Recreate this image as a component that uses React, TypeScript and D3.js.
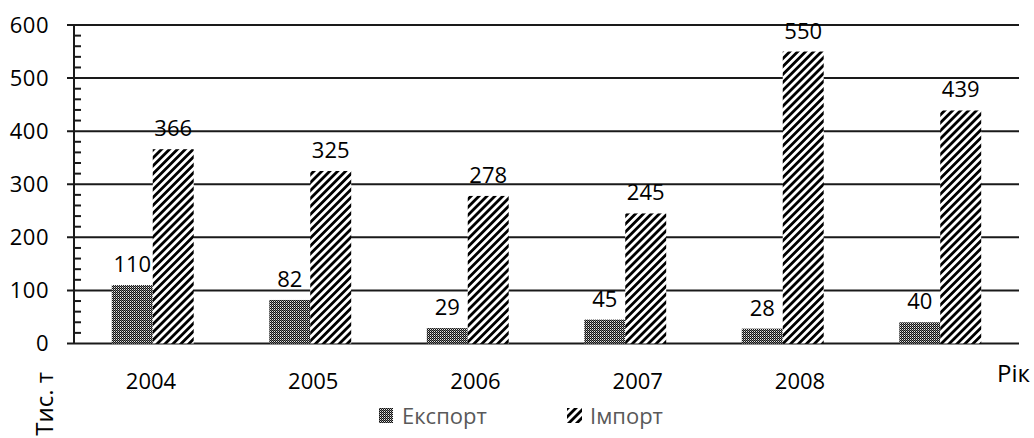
import React from "react";
import * as d3 from "d3";

const years = ["2004", "2005", "2006", "2007", "2008", ""];
const exportValues = [110, 82, 29, 45, 28, 40];
const importValues = [366, 325, 278, 245, 550, 439];
const yTicks = [0, 100, 200, 300, 400, 500, 600];
const legendLabels = ["Експорт", "Імпорт"];
const yTitle = "Тис. т";
const xTitle = "Рік";

const W = 1034;
const H = 438;
const FONT = "'Open Sans', 'Noto Sans', sans-serif";

export default function App() {
  const idx = years.map((_, i) => i);
  const x = d3
    .scaleBand<number>()
    .domain(idx)
    .range([74, 1019])
    .paddingInner(0.48)
    .paddingOuter(0.24);
  const sub = d3
    .scaleBand<string>()
    .domain(["export", "import"])
    .range([0, x.bandwidth()]);
  const y = d3.scaleLinear().domain([0, 600]).range([343.5, 25]);
  const minorTicks = d3.range(0, 601, 20).filter((v) => v % 100 !== 0);
  const labelX = d3.scaleLinear().domain([0, 4]).range([151, 800]);

  const series = [
    { key: "export", values: exportValues, fill: "url(#checker)" },
    { key: "import", values: importValues, fill: "url(#hatch)" },
  ];

  return (
    <svg
      width={W}
      height={H}
      style={{ position: "absolute", left: 0, top: 0, background: "#fff" }}
      fontFamily={FONT}
    >
      <defs>
        <pattern id="checker" width={2} height={2} patternUnits="userSpaceOnUse">
          <rect width={2} height={2} fill="#e8e8e8" />
          <rect x={0} y={0} width={1} height={1} fill="#111" />
          <rect x={1} y={1} width={1} height={1} fill="#111" />
          <rect x={1} y={0} width={1} height={1} fill="#777" />
        </pattern>
        <pattern
          id="hatch"
          width={5.6}
          height={5.6}
          patternUnits="userSpaceOnUse"
          patternTransform="rotate(45)"
        >
          <rect width={5.6} height={5.6} fill="#fff" />
          <rect x={0} y={0} width={2.8} height={5.6} fill="#000" />
        </pattern>
      </defs>

      {/* gridlines */}
      {yTicks.map((t) => (
        <line
          key={"g" + t}
          x1={67}
          x2={1019}
          y1={y(t)}
          y2={y(t)}
          stroke="#1a1a1a"
          strokeWidth={2}
        />
      ))}
      {/* minor ticks */}
      {minorTicks.map((t) => (
        <line
          key={"m" + t}
          x1={74}
          x2={81}
          y1={y(t)}
          y2={y(t)}
          stroke="#1a1a1a"
          strokeWidth={2}
        />
      ))}
      {/* y axis line */}
      <line x1={74} x2={74} y1={y(600)} y2={y(0)} stroke="#1a1a1a" strokeWidth={2} />

      {/* y tick labels */}
      {yTicks.map((t) => (
        <text
          key={"yt" + t}
          x={49}
          y={y(t)}
          dy="0.36em"
          textAnchor="end"
          fontSize={22}
          letterSpacing={0.5}
          fill="#000"
        >
          {t}
        </text>
      ))}

      {/* bars */}
      {series.map((s) =>
        s.values.map((v, i) => {
          const bx = (x(i) ?? 0) + (sub(s.key) ?? 0);
          return (
            <rect
              key={s.key + i}
              x={bx}
              y={y(v)}
              width={sub.bandwidth()}
              height={y(0) - y(v)}
              fill={s.fill}
            />
          );
        })
      )}

      {/* data labels */}
      {series.map((s) =>
        s.values.map((v, i) => {
          const cx = (x(i) ?? 0) + (sub(s.key) ?? 0) + sub.bandwidth() / 2;
          return (
            <text
              key={"l" + s.key + i}
              x={cx}
              y={y(v) - 13}
              textAnchor="middle"
              fontSize={22}
              fill="#000"
            >
              {v}
            </text>
          );
        })
      )}

      {/* year labels */}
      {years.map((yr, i) =>
        yr ? (
          <text
            key={"yr" + i}
            x={labelX(i)}
            y={389}
            textAnchor="middle"
            fontSize={22}
            fill="#000"
          >
            {yr}
          </text>
        ) : null
      )}

      {/* axis titles */}
      <text x={997} y={382} fontSize={24} fill="#000">
        {xTitle}
      </text>
      <text
        transform="translate(53,372) rotate(-90)"
        textAnchor="end"
        fontSize={24}
        fill="#000"
      >
        {yTitle}
      </text>

      {/* legend */}
      <rect x={379} y={408} width={14} height={15} fill="url(#checker)" />
      <text x={402} y={424} fontSize={22} fill="#595959">
        {legendLabels[0]}
      </text>
      <rect x={567} y={408} width={15} height={15} fill="url(#hatch)" />
      <text x={590} y={424} fontSize={22} fill="#595959">
        {legendLabels[1]}
      </text>
    </svg>
  );
}
